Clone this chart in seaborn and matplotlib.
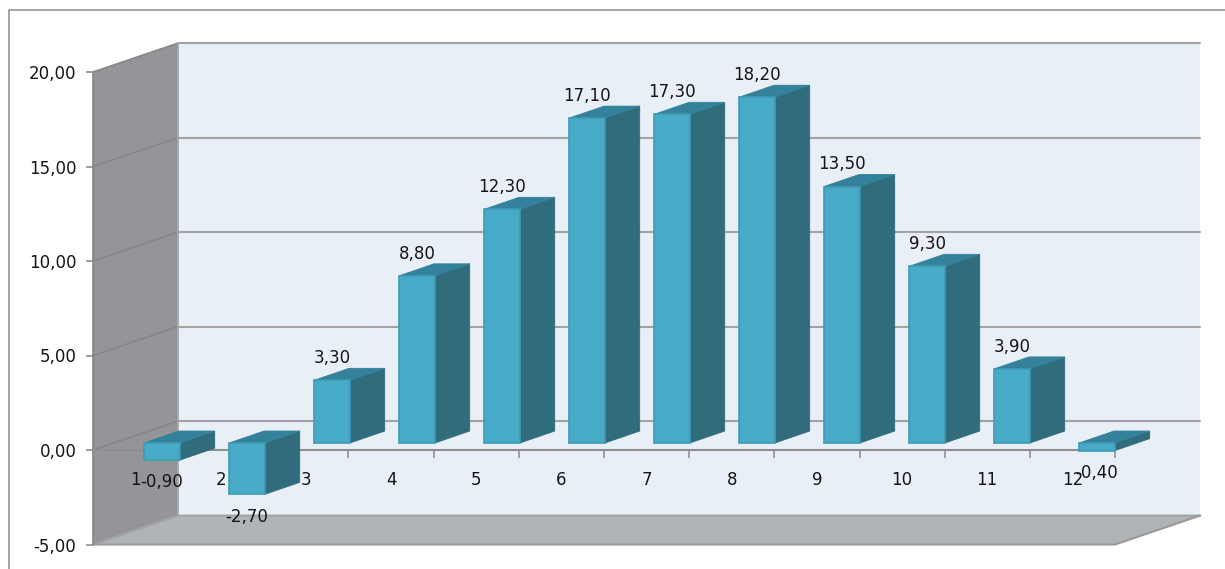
import matplotlib
matplotlib.use('Agg')
import matplotlib.pyplot as plt
from matplotlib.lines import Line2D
from matplotlib.patches import Polygon
import pandas as pd
import seaborn as sns

# DATA
months = ['1', '2', '3', '4', '5', '6', '7', '8', '9', '10', '11', '12']
values = [-0.9, -2.7, 3.3, 8.8, 12.3, 17.1, 17.3, 18.2, 13.5, 9.3, 3.9, -0.4]
y_ticks = [-5, 0, 5, 10, 15, 20]

# COLOURS
FRONT = '#47abc8'
FRONT_EDGE = '#3f9ab4'
SIDE = '#306c7c'
TOP = '#33819a'
WALL_BACK = '#e8eff6'
WALL_LEFT = '#939598'
FLOOR = '#b0b4b7'
GRID = '#a3a3a3'
TEXT = '#151515'

W, H = 1225, 569
df = pd.DataFrame({'month': months, 'value': values})

sns.set_theme(style='white')
plt.rcParams['font.family'] = ['DejaVu Sans']

fig = plt.figure(figsize=(W / 100, H / 100), dpi=100)


def px_axes(left, right, top, bottom):
    return fig.add_axes([left / W, (H - bottom) / H, (right - left) / W, (bottom - top) / H])


# outer frame
fig.add_artist(Line2D([9 / W, 9 / W, 1], [0, (H - 10) / H, (H - 10) / H], color='#8c8c8c', lw=1.1))

# MAIN AXES: walls, floor, grid, ticks
ax = px_axes(93, 1115, 72, 544.5)
ax.set_xlim(-0.5, 11.5)
ax.set_ylim(-5, 20)
ax.set_axisbelow(False)  # seaborn style puts ticks under the walls otherwise
dx, dy = 1.0, 1.53  # depth of the box in data units
x0, x1 = -0.5, 11.5

ax.add_patch(Polygon([(x0 + dx, -5 + dy), (x1 + dx, -5 + dy), (x1 + dx, 20 + dy), (x0 + dx, 20 + dy)],
                     fc=WALL_BACK, ec='none', clip_on=False, zorder=1))
ax.add_patch(Polygon([(x0, -5), (x0 + dx, -5 + dy), (x0 + dx, 20 + dy), (x0, 20)],
                     fc=WALL_LEFT, ec='none', clip_on=False, zorder=1))
ax.add_patch(Polygon([(x0, -5), (x1, -5), (x1 + dx, -5 + dy), (x0 + dx, -5 + dy)],
                     fc=FLOOR, ec='none', clip_on=False, zorder=1))

for t in y_ticks:
    if t == -5:
        # floor lines
        ax.plot([x0, x0 + dx, x1 + dx], [t, t + dy, t + dy], color=GRID, lw=1.5, clip_on=False, zorder=2)
        ax.plot([x0, x1, x1 + dx], [t, t, t + dy], color='#999999', lw=1.5, clip_on=False, zorder=2)
    else:
        ax.plot([x0, x0 + dx], [t, t + dy], color='#858789', lw=1.2, clip_on=False, zorder=2)
        ax.plot([x0 + dx, x1 + dx], [t + dy, t + dy], color=GRID, lw=1.5, clip_on=False, zorder=2)
ax.plot([x0 + dx, x0 + dx], [-5 + dy, 20 + dy], color='#a6a8aa', lw=1.2, clip_on=False, zorder=2)
ax.plot([x0, x0], [-5, 20], color='#858789', lw=1.2, clip_on=False, zorder=2)

ax.patch.set_alpha(0)
for name in ['top', 'right', 'left']:
    ax.spines[name].set_visible(False)
ax.spines['bottom'].set_position(('data', 0))
ax.spines['bottom'].set_color('#8f8f8f')
ax.spines['bottom'].set_linewidth(1.5)
ax.spines['bottom'].set_zorder(2)

ax.set_yticks(y_ticks)
ax.set_yticklabels(['{:.2f}'.format(t).replace('.', ',') for t in y_ticks], fontsize=12, color=TEXT)
ax.tick_params(axis='y', left=True, length=5, width=1.2, color='#8f8f8f', pad=7)
ax.set_xticks(range(len(months)))
ax.set_xticklabels(months, fontsize=12, color=TEXT)
ax.set_xticks([i + 0.5 for i in range(len(months))], minor=True)
ax.tick_params(axis='x', which='major', bottom=False, length=0, pad=15)
ax.tick_params(axis='x', which='minor', bottom=True, length=6, width=1.2, color='#8f8f8f')

# BAR AXES: sits a little deeper in the box than the front of the chart
bar_ax = px_axes(119.5, 1139.5, 63, 538)
bar_ax.patch.set_alpha(0)
sns.barplot(data=df, x='month', y='value', order=months, color=FRONT, saturation=1,
            width=0.42, ax=bar_ax, zorder=4)
bar_ax.set_xlim(-0.5, 11.5)
bar_ax.set_ylim(-5, 20)
bar_ax.axis('off')

bx, by = 0.41, 0.63  # bar depth in data units
for patch in bar_ax.patches:
    patch.set_edgecolor(FRONT_EDGE)
    patch.set_linewidth(1.2)
    left = patch.get_x()
    right = left + patch.get_width()
    y_low = min(patch.get_y(), patch.get_y() + patch.get_height())
    y_high = max(patch.get_y(), patch.get_y() + patch.get_height())
    bar_ax.add_patch(Polygon([(right, y_low), (right + bx, y_low + by), (right + bx, y_high + by), (right, y_high)],
                             fc=SIDE, ec=SIDE, lw=0.6, zorder=3.5, clip_on=False))
    bar_ax.add_patch(Polygon([(left, y_high), (right, y_high), (right + bx, y_high + by), (left + bx, y_high + by)],
                             fc=TOP, ec=TOP, lw=0.6, zorder=3.6, clip_on=False))

# DATA LABELS
for i, v in enumerate(values):
    txt = '{:.2f}'.format(v).replace('.', ',')
    off = 16 if v > 0 else -16
    bar_ax.annotate(txt, (i, v), xytext=(0, off), textcoords='offset points', ha='center', va='center',
                    fontsize=12, color=TEXT, zorder=7, annotation_clip=False)

fig.savefig('out.png', dpi=100)
